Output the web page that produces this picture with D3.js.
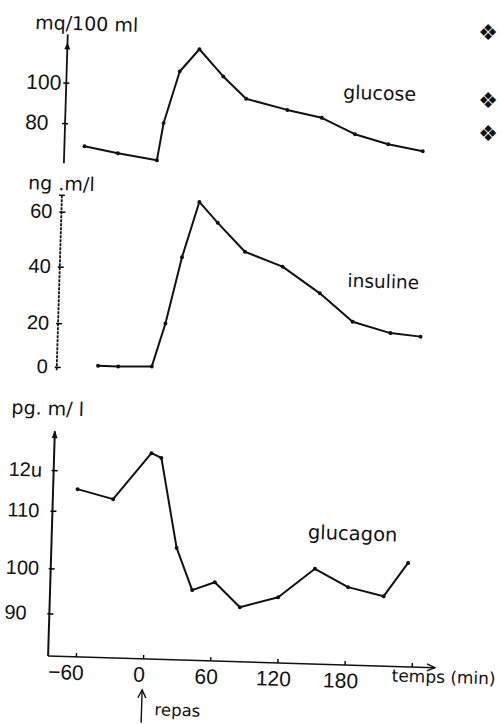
<!DOCTYPE html>
<html>
<head>
<meta charset="utf-8">
<script src="https://cdn.jsdelivr.net/npm/d3@7"></script>
<style>
  html, body { margin: 0; padding: 0; background: #fff; }
  svg { display: block; font-family: "DejaVu Sans", sans-serif; }
</style>
</head>
<body>
<svg id="chart" width="501" height="724"></svg>
<script>
// ---- data ----
const glucoseTime  = [-66, -36, -1, 4, 17, 34, 56, 77, 114, 145, 175, 205, 236];
const glucoseValue = [68.8, 65.8, 62.9, 81.5, 107.2, 118.5, 105.4, 94.7, 89.8, 86.4, 78.8, 74.3, 71.4];

const insulinTime  = [-48, -30, 0, 11, 24, 38, 55, 80, 114, 148, 178, 212, 239];
const insulinValue = [1, 1, 1.5, 21, 44.7, 65, 57.6, 47.4, 42.4, 33.3, 23.6, 20, 18.8];

const glucagonTime  = [-63, -31, 2, 11, 27, 42, 62, 85, 119, 151, 181, 213, 234];
const glucagonValue = [115.5, 113.3, 124.9, 123.8, 104.2, 96.1, 98.0, 92.6, 95.1, 101.3, 97.8, 96.0, 102.8];

const timeTicks      = [-60, 0, 60, 120, 180, 240];
const timeTickLabels = ["\u221260", "0", "60", "120", "180", ""];

const glucoseTicks       = [80, 100];
const glucoseTickLabels  = ["80", "100"];
const insulinTicks       = [0, 20, 40, 60];
const insulinTickLabels  = ["0", "20", "40", "60"];
const glucagonTicks      = [90, 100, 110, 120];
const glucagonTickLabels = ["90", "100", "110", "12u"];

const seriesNames = ["glucose", "insuline", "glucagon"];
const unitLabels  = ["mq/100 ml", "ng .m/l", "pg. m/ l"];
const xTitle = "temps (min)";
const mealLabel = "repas";

// ---- drawing ----
const svg = d3.select("#chart");
svg.append("rect").attr("width", 501).attr("height", 724).attr("fill", "#fff");

// the scanned figure is slightly tilted
const g = svg.append("g").attr("transform", "rotate(1.72,250,362)");

const axisX = 57;
const tickFont = "'Liberation Sans', Arial, sans-serif";
const textFont = "'DejaVu Sans', sans-serif";
const x = d3.scaleLinear().domain([-60, 240]).range([84.8, 420.8]);

const yGlucose  = d3.scaleLinear().domain([80, 100]).range([128.7, 88.3]);
const yInsulin  = d3.scaleLinear().domain([0, 20, 40, 60]).range([372.6, 328.9, 272.3, 217.3]);
const yGlucagon = d3.scaleLinear().domain([90, 100, 110, 120]).range([619.2, 574.2, 516.6, 476]);

function zip(ts, vs) { return ts.map((t, i) => ({ t, v: vs[i] })); }

function drawYAxis(scale, ticks, labels, anchor, offset, fs) {
  const ax = g.append("g")
    .attr("transform", `translate(${axisX},0)`)
    .call(d3.axisLeft(scale)
      .tickValues(ticks)
      .tickFormat((d, i) => labels[i])
      .tickSizeInner(-4).tickSizeOuter(0).tickPadding(offset));
  ax.select(".domain").remove();
  ax.selectAll(".tick line").attr("x1", -2).attr("stroke-width", 1.5);
  ax.selectAll("text")
    .style("font-family", tickFont).style("font-size", fs + "px")
    .attr("fill", "#111").attr("text-anchor", anchor).attr("x", -offset);
}

function drawSeries(scale, data) {
  const line = d3.line().x(d => x(d.t)).y(d => scale(d.v));
  g.append("path").datum(data)
    .attr("d", line)
    .attr("fill", "none")
    .attr("stroke", "#111")
    .attr("stroke-width", 2)
    .attr("stroke-linejoin", "round");
  g.append("g").selectAll("circle").data(data).join("circle")
    .attr("cx", d => x(d.t)).attr("cy", d => scale(d.v))
    .attr("r", 2).attr("fill", "#111");
}

function label(xp, yp, fs, txt, font) {
  return g.append("text").attr("x", xp).attr("y", yp)
    .style("font-family", font || textFont).style("font-size", fs + "px")
    .attr("fill", "#111").text(txt);
}

// glucose axis
g.append("line").attr("x1", axisX + 1).attr("x2", axisX + 1).attr("y1", 40).attr("y2", 169)
  .attr("stroke", "#111").attr("stroke-width", 1.8);
g.append("path").attr("d", `M${axisX + 1},48 L${axisX - 2},55 L${axisX + 4},55 Z`).attr("fill", "#111");
drawYAxis(yGlucose, glucoseTicks, glucoseTickLabels, "start", 39, 21);

// insulin axis
g.append("line").attr("x1", axisX).attr("x2", axisX).attr("y1", 201).attr("y2", 377)
  .attr("stroke", "#111").attr("stroke-width", 1.8).attr("stroke-dasharray", "3,1");
g.append("line").attr("x1", axisX - 3).attr("x2", axisX + 3).attr("y1", 201).attr("y2", 201)
  .attr("stroke", "#111").attr("stroke-width", 1.5);
drawYAxis(yInsulin, insulinTicks, insulinTickLabels, "end", 9, 20);

// glucagon axis
g.append("line").attr("x1", axisX).attr("x2", axisX).attr("y1", 437).attr("y2", 662)
  .attr("stroke", "#111").attr("stroke-width", 2);
g.append("path").attr("d", `M${axisX},436 L${axisX - 3},444 L${axisX + 3},444 Z`).attr("fill", "#111");
drawYAxis(yGlucagon, glucagonTicks, glucagonTickLabels, "start", 45, 20);

// x axis
g.append("line").attr("x1", axisX).attr("x2", 444).attr("y1", 662).attr("y2", 662)
  .attr("stroke", "#111").attr("stroke-width", 1.6);
g.append("path").attr("d", "M436,658.5 L444,662 L436,665.5").attr("fill", "none")
  .attr("stroke", "#111").attr("stroke-width", 1.4);
const xa = g.append("g").attr("transform", "translate(0,662)")
  .call(d3.axisBottom(x).tickValues(timeTicks)
    .tickFormat((d, i) => timeTickLabels[i])
    .tickSizeInner(-4).tickSizeOuter(0).tickPadding(8));
xa.select(".domain").remove();
xa.selectAll("text")
  .style("font-family", tickFont).style("font-size", "21px")
  .attr("fill", "#111").attr("dx", (d, i) => (i === 0 ? -10 : -4));
xa.selectAll(".tick line").attr("stroke-width", 1.4);

// series
drawSeries(yGlucose, zip(glucoseTime, glucoseValue));
drawSeries(yInsulin, zip(insulinTime, insulinValue));
drawSeries(yGlucagon, zip(glucagonTime, glucagonValue));

// unit labels
label(25, 35.5, 19, unitLabels[0]);
label(23, 196, 19, unitLabels[1]);
label(13, 421, 19, unitLabels[2]);

// series labels
label(335, 96, 19, seriesNames[0]);
label(345, 284, 18.5, seriesNames[1]);
label(313, 537, 19.5, seriesNames[2]);

// x title
label(401, 677, 17, xTitle);

// meal arrow
g.append("line").attr("x1", x(0)).attr("x2", x(0)).attr("y1", 694).attr("y2", 726)
  .attr("stroke", "#111").attr("stroke-width", 1.4);
g.append("path").attr("d", `M${x(0) - 4},701 L${x(0)},693 L${x(0) + 4},701`)
  .attr("fill", "none").attr("stroke", "#111").attr("stroke-width", 1.4);
label(165, 718, 16.5, mealLabel);

// page bullets at the right edge
const bulletY = [32, 100, 133];
svg.append("g").selectAll("text").data(bulletY).join("text")
  .attr("x", 488).attr("y", d => d).attr("text-anchor", "middle")
  .attr("dominant-baseline", "central")
  .style("font-family", textFont).style("font-size", "22px")
  .attr("fill", "#111").text("\u2756");
</script>
</body>
</html>
